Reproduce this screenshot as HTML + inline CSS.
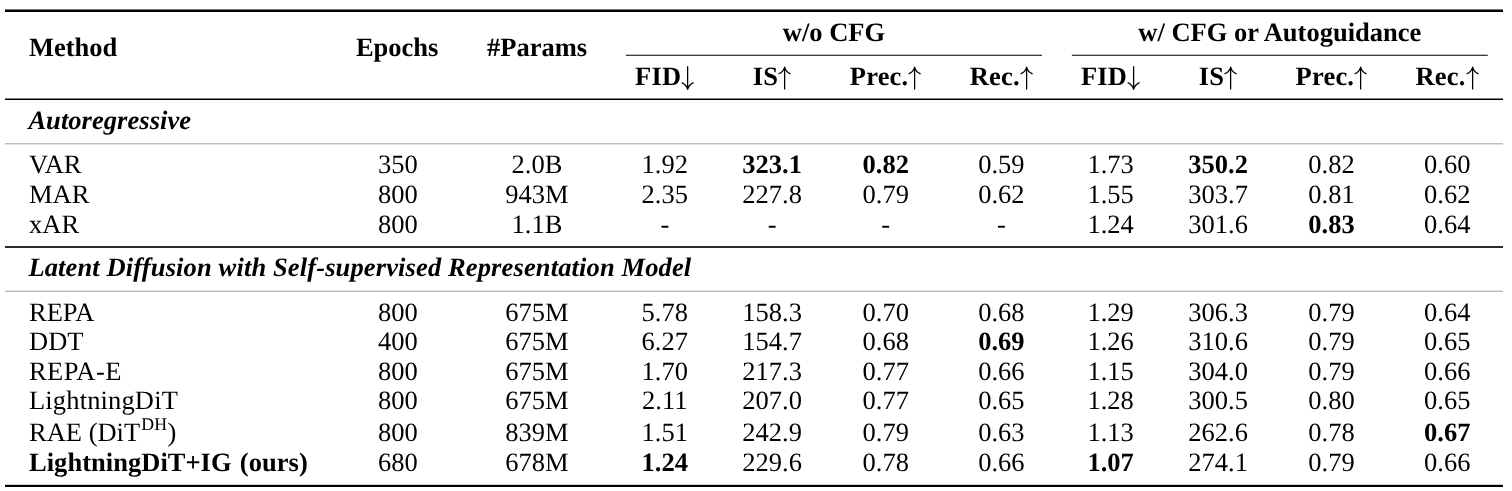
<!DOCTYPE html>
<html lang="en">
<head>
<meta charset="utf-8">
<title>Table</title>
<style>
html,body{margin:0;padding:0;background:#fff;}
body{width:1512px;height:491px;position:relative;overflow:hidden;
  font-family:"Liberation Serif",serif;font-size:26.5px;color:#000;text-rendering:geometricPrecision;}
#w{position:absolute;left:0;top:0;width:1512px;height:491px;will-change:transform;}
.t{position:absolute;white-space:nowrap;line-height:30px;height:30px;font-kerning:normal;}
.c{text-align:center;}
.b,b{font-weight:bold;}
.bi{font-weight:bold;font-style:italic;}
.sh{letter-spacing:0.18px;}
.ls{letter-spacing:0.13px;}
.ls2{letter-spacing:0.05px;}
.sup{font-size:17.8px;position:relative;top:-10.9px;line-height:0;margin-left:1.2px;margin-right:0.6px;}
.rules{position:absolute;left:0;top:0;}
.ar{display:inline-block;width:0.5em;height:0.888em;vertical-align:-0.194em;overflow:visible;}
.ar path{fill:none;stroke:#000;stroke-width:48;stroke-linecap:butt;stroke-linejoin:round;}
</style>
</head>
<body>
<div id="w">
<svg class="rules" width="1512" height="491" viewBox="0 0 1512 491">
<rect x="5" y="9.48" width="1498" height="2.52" fill="#000"/>
<rect x="626" y="54.75" width="416" height="1.01" fill="#000"/>
<rect x="1071.85" y="54.75" width="415.95" height="1.01" fill="#000"/>
<rect x="5" y="98.5" width="1498" height="1.5" fill="#000"/>
<rect x="5" y="143.0" width="1498" height="1.48" fill="#bebebe"/>
<rect x="5" y="246.17" width="1498" height="1.66" fill="#000"/>
<rect x="5" y="290.52" width="1498" height="1.48" fill="#bebebe"/>
<rect x="5" y="484.8" width="1498" height="2.2" fill="#000"/>
</svg>
<div class="t b" style="left:29.00px;top:31.86px">Method</div>
<div class="t c b" style="left:147.20px;top:31.86px;width:500px">Epochs</div>
<div class="t c b" style="left:287.00px;top:31.86px;width:500px">#Params</div>
<div class="t c b" style="left:584.00px;top:16.86px;width:500px">w/o CFG</div>
<div class="t c b" style="left:1029.82px;top:16.86px;width:500px">w/ CFG or Autoguidance</div>
<div class="t c b" style="left:414.80px;top:61.26px;width:500px"><span class="sh">FID</span><svg class="ar" viewBox="0 0 500 888"><path d="M250 -26V844M24 590C130 630 217 718 250 844C283 718 370 630 476 590"/></svg></div>
<div class="t c b" style="left:522.10px;top:61.26px;width:500px"><span class="sh">IS</span><svg class="ar" viewBox="0 0 500 888"><path d="M250 852V8M24 262C130 222 217 134 250 8C283 134 370 222 476 262"/></svg></div>
<div class="t c b" style="left:635.70px;top:61.26px;width:500px"><span class="sh">Prec.</span><svg class="ar" viewBox="0 0 500 888"><path d="M250 852V8M24 262C130 222 217 134 250 8C283 134 370 222 476 262"/></svg></div>
<div class="t c b" style="left:751.40px;top:61.26px;width:500px"><span class="sh">Rec.</span><svg class="ar" viewBox="0 0 500 888"><path d="M250 852V8M24 262C130 222 217 134 250 8C283 134 370 222 476 262"/></svg></div>
<div class="t c b" style="left:860.60px;top:61.26px;width:500px"><span class="sh">FID</span><svg class="ar" viewBox="0 0 500 888"><path d="M250 -26V844M24 590C130 630 217 718 250 844C283 718 370 630 476 590"/></svg></div>
<div class="t c b" style="left:968.10px;top:61.26px;width:500px"><span class="sh">IS</span><svg class="ar" viewBox="0 0 500 888"><path d="M250 852V8M24 262C130 222 217 134 250 8C283 134 370 222 476 262"/></svg></div>
<div class="t c b" style="left:1081.50px;top:61.26px;width:500px"><span class="sh">Prec.</span><svg class="ar" viewBox="0 0 500 888"><path d="M250 852V8M24 262C130 222 217 134 250 8C283 134 370 222 476 262"/></svg></div>
<div class="t c b" style="left:1197.20px;top:61.26px;width:500px"><span class="sh">Rec.</span><svg class="ar" viewBox="0 0 500 888"><path d="M250 852V8M24 262C130 222 217 134 250 8C283 134 370 222 476 262"/></svg></div>
<div class="t bi ls2" style="left:28.40px;top:104.86px">Autoregressive</div>
<div class="t bi ls" style="left:28.40px;top:252.46px">Latent Diffusion with Self-supervised Representation Model</div>
<div class="t " style="left:29.00px;top:148.76px">VAR</div>
<div class="t c " style="left:147.80px;top:148.76px;width:500px">350</div>
<div class="t c " style="left:287.00px;top:148.76px;width:500px">2.0B</div>
<div class="t c " style="left:414.80px;top:148.76px;width:500px">1.92</div>
<div class="t c " style="left:522.10px;top:148.76px;width:500px"><b>323.1</b></div>
<div class="t c " style="left:635.70px;top:148.76px;width:500px"><b>0.82</b></div>
<div class="t c " style="left:751.40px;top:148.76px;width:500px">0.59</div>
<div class="t c " style="left:860.60px;top:148.76px;width:500px">1.73</div>
<div class="t c " style="left:968.10px;top:148.76px;width:500px"><b>350.2</b></div>
<div class="t c " style="left:1081.50px;top:148.76px;width:500px">0.82</div>
<div class="t c " style="left:1197.20px;top:148.76px;width:500px">0.60</div>
<div class="t " style="left:29.00px;top:179.06px">MAR</div>
<div class="t c " style="left:147.80px;top:179.06px;width:500px">800</div>
<div class="t c " style="left:287.00px;top:179.06px;width:500px">943M</div>
<div class="t c " style="left:414.80px;top:179.06px;width:500px">2.35</div>
<div class="t c " style="left:522.10px;top:179.06px;width:500px">227.8</div>
<div class="t c " style="left:635.70px;top:179.06px;width:500px">0.79</div>
<div class="t c " style="left:751.40px;top:179.06px;width:500px">0.62</div>
<div class="t c " style="left:860.60px;top:179.06px;width:500px">1.55</div>
<div class="t c " style="left:968.10px;top:179.06px;width:500px">303.7</div>
<div class="t c " style="left:1081.50px;top:179.06px;width:500px">0.81</div>
<div class="t c " style="left:1197.20px;top:179.06px;width:500px">0.62</div>
<div class="t " style="left:29.00px;top:208.86px">xAR</div>
<div class="t c " style="left:147.80px;top:208.86px;width:500px">800</div>
<div class="t c " style="left:287.00px;top:208.86px;width:500px">1.1B</div>
<div class="t c " style="left:414.80px;top:208.86px;width:500px">-</div>
<div class="t c " style="left:522.10px;top:208.86px;width:500px">-</div>
<div class="t c " style="left:635.70px;top:208.86px;width:500px">-</div>
<div class="t c " style="left:751.40px;top:208.86px;width:500px">-</div>
<div class="t c " style="left:860.60px;top:208.86px;width:500px">1.24</div>
<div class="t c " style="left:968.10px;top:208.86px;width:500px">301.6</div>
<div class="t c " style="left:1081.50px;top:208.86px;width:500px"><b>0.83</b></div>
<div class="t c " style="left:1197.20px;top:208.86px;width:500px">0.64</div>
<div class="t " style="left:29.00px;top:296.56px">REPA</div>
<div class="t c " style="left:147.80px;top:296.56px;width:500px">800</div>
<div class="t c " style="left:287.00px;top:296.56px;width:500px">675M</div>
<div class="t c " style="left:414.80px;top:296.56px;width:500px">5.78</div>
<div class="t c " style="left:522.10px;top:296.56px;width:500px">158.3</div>
<div class="t c " style="left:635.70px;top:296.56px;width:500px">0.70</div>
<div class="t c " style="left:751.40px;top:296.56px;width:500px">0.68</div>
<div class="t c " style="left:860.60px;top:296.56px;width:500px">1.29</div>
<div class="t c " style="left:968.10px;top:296.56px;width:500px">306.3</div>
<div class="t c " style="left:1081.50px;top:296.56px;width:500px">0.79</div>
<div class="t c " style="left:1197.20px;top:296.56px;width:500px">0.64</div>
<div class="t " style="left:29.00px;top:326.06px">DDT</div>
<div class="t c " style="left:147.80px;top:326.06px;width:500px">400</div>
<div class="t c " style="left:287.00px;top:326.06px;width:500px">675M</div>
<div class="t c " style="left:414.80px;top:326.06px;width:500px">6.27</div>
<div class="t c " style="left:522.10px;top:326.06px;width:500px">154.7</div>
<div class="t c " style="left:635.70px;top:326.06px;width:500px">0.68</div>
<div class="t c " style="left:751.40px;top:326.06px;width:500px"><b>0.69</b></div>
<div class="t c " style="left:860.60px;top:326.06px;width:500px">1.26</div>
<div class="t c " style="left:968.10px;top:326.06px;width:500px">310.6</div>
<div class="t c " style="left:1081.50px;top:326.06px;width:500px">0.79</div>
<div class="t c " style="left:1197.20px;top:326.06px;width:500px">0.65</div>
<div class="t " style="left:29.00px;top:355.66px"><span style="letter-spacing:0.4px">REPA-E</span></div>
<div class="t c " style="left:147.80px;top:355.66px;width:500px">800</div>
<div class="t c " style="left:287.00px;top:355.66px;width:500px">675M</div>
<div class="t c " style="left:414.80px;top:355.66px;width:500px">1.70</div>
<div class="t c " style="left:522.10px;top:355.66px;width:500px">217.3</div>
<div class="t c " style="left:635.70px;top:355.66px;width:500px">0.77</div>
<div class="t c " style="left:751.40px;top:355.66px;width:500px">0.66</div>
<div class="t c " style="left:860.60px;top:355.66px;width:500px">1.15</div>
<div class="t c " style="left:968.10px;top:355.66px;width:500px">304.0</div>
<div class="t c " style="left:1081.50px;top:355.66px;width:500px">0.79</div>
<div class="t c " style="left:1197.20px;top:355.66px;width:500px">0.66</div>
<div class="t " style="left:29.00px;top:385.06px"><span style="letter-spacing:0.15px">LightningDiT</span></div>
<div class="t c " style="left:147.80px;top:385.06px;width:500px">800</div>
<div class="t c " style="left:287.00px;top:385.06px;width:500px">675M</div>
<div class="t c " style="left:414.80px;top:385.06px;width:500px">2.11</div>
<div class="t c " style="left:522.10px;top:385.06px;width:500px">207.0</div>
<div class="t c " style="left:635.70px;top:385.06px;width:500px">0.77</div>
<div class="t c " style="left:751.40px;top:385.06px;width:500px">0.65</div>
<div class="t c " style="left:860.60px;top:385.06px;width:500px">1.28</div>
<div class="t c " style="left:968.10px;top:385.06px;width:500px">300.5</div>
<div class="t c " style="left:1081.50px;top:385.06px;width:500px">0.80</div>
<div class="t c " style="left:1197.20px;top:385.06px;width:500px">0.65</div>
<div class="t " style="left:29.00px;top:417.06px">RAE (DiT<span class="sup">DH</span>)</div>
<div class="t c " style="left:147.80px;top:417.06px;width:500px">800</div>
<div class="t c " style="left:287.00px;top:417.06px;width:500px">839M</div>
<div class="t c " style="left:414.80px;top:417.06px;width:500px">1.51</div>
<div class="t c " style="left:522.10px;top:417.06px;width:500px">242.9</div>
<div class="t c " style="left:635.70px;top:417.06px;width:500px">0.79</div>
<div class="t c " style="left:751.40px;top:417.06px;width:500px">0.63</div>
<div class="t c " style="left:860.60px;top:417.06px;width:500px">1.13</div>
<div class="t c " style="left:968.10px;top:417.06px;width:500px">262.6</div>
<div class="t c " style="left:1081.50px;top:417.06px;width:500px">0.78</div>
<div class="t c " style="left:1197.20px;top:417.06px;width:500px"><b>0.67</b></div>
<div class="t b" style="left:29.00px;top:447.06px"><span style="word-spacing:1.6px;letter-spacing:0.03px">LightningDiT+IG (ours)</span></div>
<div class="t c " style="left:147.80px;top:447.06px;width:500px">680</div>
<div class="t c " style="left:287.00px;top:447.06px;width:500px">678M</div>
<div class="t c " style="left:414.80px;top:447.06px;width:500px"><b>1.24</b></div>
<div class="t c " style="left:522.10px;top:447.06px;width:500px">229.6</div>
<div class="t c " style="left:635.70px;top:447.06px;width:500px">0.78</div>
<div class="t c " style="left:751.40px;top:447.06px;width:500px">0.66</div>
<div class="t c " style="left:860.60px;top:447.06px;width:500px"><b>1.07</b></div>
<div class="t c " style="left:968.10px;top:447.06px;width:500px">274.1</div>
<div class="t c " style="left:1081.50px;top:447.06px;width:500px">0.79</div>
<div class="t c " style="left:1197.20px;top:447.06px;width:500px">0.66</div>
</div>
</body>
</html>
